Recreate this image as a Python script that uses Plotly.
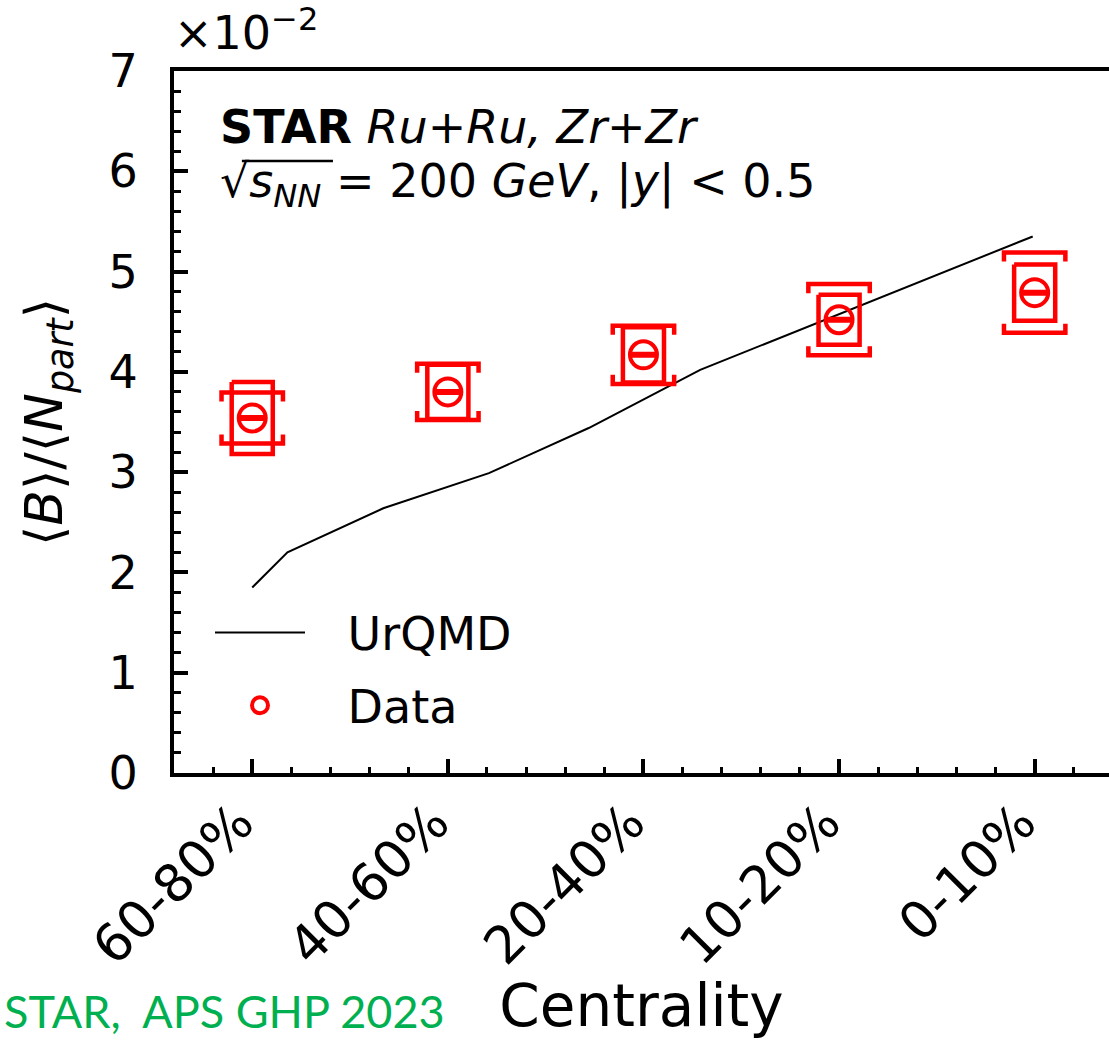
import plotly.graph_objects as go

# ---------------- data (values in units of 1e-2) ----------------
centrality = ["60-80%", "40-60%", "20-40%", "10-20%", "0-10%"]
ratio = [3.54, 3.80, 4.17, 4.52, 4.79]
stat_err = [0.01, 0.01, 0.01, 0.01, 0.01]
sys_box = [0.36, 0.27, 0.275, 0.25, 0.28]
sys_bracket = [0.255, 0.28, 0.29, 0.355, 0.40]

urqmd_pos = [0.0, 0.18, 0.67, 1.21, 1.72, 2.29, 3.99]
urqmd_ratio = [1.85, 2.20, 2.64, 2.99, 3.44, 4.02, 5.35]

y_ticks = [0, 1, 2, 3, 4, 5, 6, 7]

# ---------------- style constants ----------------
RED = "#ff0000"
FONT = "DejaVu Sans"
BOX_HW = 0.105      # half width of systematic box (x units)
BR_HW = 0.157       # half width of bracket (x units)
BR_LEG = 0.09       # bracket leg length (y units)

pos = list(range(len(centrality)))

# systematic boxes
bx, by = [], []
for i, v, s in zip(pos, ratio, sys_box):
    bx += [i - BOX_HW, i + BOX_HW, i + BOX_HW, i - BOX_HW, i - BOX_HW, None]
    by += [v + s, v + s, v - s, v - s, v + s, None]

# brackets
kx, ky = [], []
for i, v, b in zip(pos, ratio, sys_bracket):
    kx += [i - BR_HW, i - BR_HW, i + BR_HW, i + BR_HW, None]
    ky += [v + b - BR_LEG, v + b, v + b, v + b - BR_LEG, None]
    kx += [i - BR_HW, i - BR_HW, i + BR_HW, i + BR_HW, None]
    ky += [v - b + BR_LEG, v - b, v - b, v - b + BR_LEG, None]

fig = go.Figure()

fig.add_trace(go.Scatter(
    x=urqmd_pos, y=urqmd_ratio, mode="lines", name="\u2002\u00a0UrQMD",
    legendgroup="u", line=dict(color="black", width=2),
))
fig.add_trace(go.Scatter(
    x=bx, y=by, mode="lines", showlegend=False, hoverinfo="skip",
    line=dict(color=RED, width=4.5),
))
fig.add_trace(go.Scatter(
    x=kx, y=ky, mode="lines", showlegend=False, hoverinfo="skip",
    line=dict(color=RED, width=4.5),
))
fig.add_trace(go.Scatter(
    x=pos, y=ratio, mode="markers", name="\u2002\u00a0Data", legendgroup="d",
    marker=dict(symbol="circle-open", size=27, color=RED, line=dict(width=4, color=RED)),
    error_y=dict(type="data", array=stat_err, color=RED, thickness=4, width=14),
))

fig.update_layout(
    width=1109, height=1040,
    margin=dict(l=174, r=0, t=71, b=267),
    paper_bgcolor="white", plot_bgcolor="white",
    font=dict(family=FONT, size=46, color="black"),
    showlegend=True,
    legend=dict(
        x=0.0385, y=0.252, xanchor="left", yanchor="top",
        bgcolor="rgba(0,0,0,0)", font=dict(size=46, family=FONT),
        itemwidth=90, tracegroupgap=10,
    ),
)

fig.update_xaxes(
    range=[-0.4, 4.38], automargin=False,
    tickmode="array", tickvals=pos, ticktext=centrality,
    tickangle=-45, tickfont=dict(size=52, family=FONT),
    ticks="inside", ticklen=14, tickwidth=4, tickcolor="black",
    minor=dict(tickmode="linear", tick0=0, dtick=0.2, ticks="inside",
               ticklen=6, tickwidth=3, tickcolor="black", showgrid=False),
    showline=True, linecolor="black", linewidth=4, mirror=True,
    showgrid=False, zeroline=False,
    ticklabelstandoff=-6, ticklabelshift=-14,
    title=dict(text="Centrality", font=dict(size=58, family=FONT), standoff=30),
)
fig.update_yaxes(
    range=[0, 7], automargin=False,
    tickmode="array", tickvals=y_ticks, ticktext=[str(t) for t in y_ticks],
    tickfont=dict(size=46, family=FONT),
    ticks="inside", ticklen=14, tickwidth=4, tickcolor="black",
    minor=dict(tickmode="linear", tick0=0, dtick=0.2, ticks="inside",
               ticklen=7, tickwidth=3, tickcolor="black", showgrid=False),
    showline=True, linecolor="black", linewidth=4, mirror=False,
    showgrid=False, zeroline=False,
    ticklabelstandoff=23,
    title=dict(text="⟨<i>B</i>⟩/⟨<i>N</i><sub><i>part</i></sub>⟩",
               font=dict(size=52, family=FONT), standoff=30),
)

fig.add_annotation(
    x=0.0, y=1.0, xref="paper", yref="paper", xanchor="left", yanchor="bottom",
    xshift=-2, yshift=9,
    text="×10<sup>−2</sup>", showarrow=False, font=dict(size=46, family=FONT),
)
fig.add_annotation(
    x=0.0513, y=0.920, xref="paper", yref="paper", xanchor="left", yanchor="middle",
    xshift=-4,
    text="<b>STAR</b> <i>Ru+Ru, Zr+Zr</i>", showarrow=False,
    font=dict(size=46, family=FONT),
)
fig.add_annotation(
    x=0.0513, y=0.839, xref="paper", yref="paper", xanchor="left", yanchor="middle",
    xshift=-4,
    text="√<i>s</i><sub><i>NN</i></sub> = 200 <i>GeV</i>, |<i>y</i>| &lt; 0.5",
    showarrow=False, font=dict(size=46, family=FONT),
)
# radical bar over s_NN
fig.add_shape(
    type="line", xref="paper", yref="paper",
    x0=0.0726, x1=0.170, y0=0.8718, y1=0.8718,
    line=dict(color="black", width=2.5),
)
fig.add_annotation(
    x=0.0, y=-0.339, xref="paper", yref="paper", xanchor="left", yanchor="middle",
    xshift=-172,
    text="STAR,  APS GHP 2023", showarrow=False,
    font=dict(size=45, family="Lato", color="#00b050"),
)

fig.write_html("out.html", config={"displayModeBar": False},
               post_script="document.body.style.margin='0';")
